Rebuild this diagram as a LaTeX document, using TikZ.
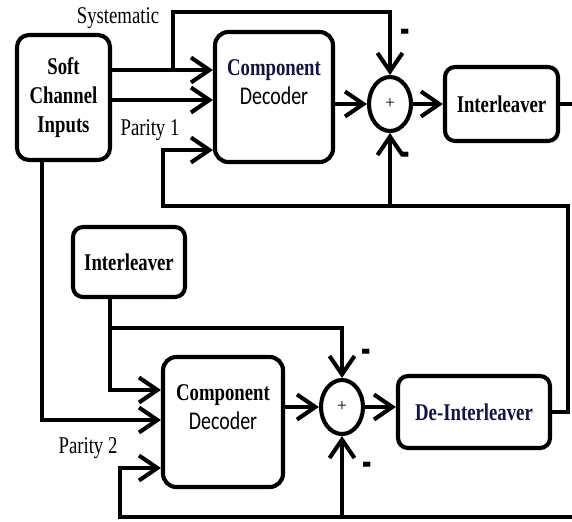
\documentclass[tikz,border=0pt]{standalone}
\usepackage{fontspec}
\setmainfont{Liberation Serif}
\newfontfamily\decfont{Carlito}
\usetikzlibrary{arrows.meta,shapes.geometric}
\def\px{0.03cm}
\def\tallt#1{\scalebox{1}[1.28]{#1}}
\definecolor{navy}{rgb}{0.08,0.08,0.25}
\tikzset{
  blk/.style={draw, line width=3.5pt, rounded corners=4mm, align=center, inner sep=0pt,
    font=\bfseries\fontsize{16}{25}\selectfont},
  sumnode/.style={draw, ellipse, line width=3.5pt, minimum width=42*\px, minimum height=54*\px,
    inner sep=0pt, font=\fontsize{15}{15}\selectfont},
  wire/.style={line width=3.5pt},
  arr/.style={wire, -{Straight Barb[length=5.5mm,width=7.5mm]}},
  lbl/.style={font=\fontsize{16}{18}\selectfont},
  minus/.style={font=\bfseries\fontsize{20}{20}\selectfont, inner sep=1pt}
}
\begin{document}
\begin{tikzpicture}[x=\px, y=-\px]
			%%%%% START %%%%%
			\useasboundingbox (0,0) rectangle (572,521);
			
			\node[blk, rounded corners=3.6mm, minimum width=93*\px, minimum height=125*\px] (soft) at (63.5,97.5) {\tallt{Soft}\\\tallt{Channel}\\\tallt{Inputs}};
			\node[blk, minimum width=118*\px, minimum height=130*\px] (dec1) at (274,97) {\tallt{\textcolor{navy}{Component}}\\\tallt{\decfont\mdseries\fontsize{17}{25}\selectfont Decoder}\\\mbox{}};
			\node[sumnode] (sum1) at (390,104) {+};
			\node[blk, rounded corners=3mm, minimum width=113*\px, minimum height=74*\px] (intl1) at (501.5,104) {\tallt{Interleaver}};
			
			\node[blk, rounded corners=3mm, minimum width=112*\px, minimum height=70*\px] (intl2) at (129,262) {\tallt{Interleaver}};
			\node[blk, minimum width=120*\px, minimum height=130*\px] (dec2) at (223,422) {\tallt{Component}\\\tallt{\decfont\mdseries\fontsize{17}{25}\selectfont Decoder}\\\mbox{}};
			\node[sumnode] (sum2) at (342,407) {+};
			\node[blk, rounded corners=3mm, text=navy, minimum width=152*\px, minimum height=72*\px] (deint) at (474,412) {\tallt{De-Interleaver}};
			
			\coordinate (sysin) at (173,70);
			\coordinate (sysup) at (173,12);
			\coordinate (chin) at (110,100);
			\coordinate (fb1) at (163,150);
			\coordinate (fb1low) at (163,206);
			\coordinate (rgt) at (568,206);
			\coordinate (edge1) at (572,104);
			\coordinate (softdn) at (42,420);
			\coordinate (intdn) at (110,390);
			\coordinate (intbr) at (110,328);
			\coordinate (par2) at (120,468);
			\coordinate (par2low) at (120,517);
			\coordinate (edge2) at (572,517);
			
			% upper decoder
			\draw[arr] (soft.east |- sysin) -- (dec1.west |- sysin);
			\draw[arr] (sysin) -- (sysup) -| (sum1.north);
			\draw[arr] (soft.east |- chin) -- (dec1.west |- chin);
			\draw[arr] (dec1.east |- sum1) -- (sum1.west);
			\draw[arr] (sum1.east) -- (intl1.west);
			\draw[wire] (intl1.east) -- (edge1);
			\draw[arr] (deint.east) -| (rgt) -- (fb1low) -- (fb1) -- (dec1.west |- fb1);
			\draw[arr] (sum1 |- rgt) -- (sum1.south);
			
			% lower decoder
			\draw[arr] (softdn |- soft.south) -- (softdn) -- (dec2.west |- softdn);
			\draw[arr] (intdn |- intl2.south) -- (intdn) -- (dec2.west |- intdn);
			\draw[arr] (intbr) -| (sum2.north);
			\draw[arr] (edge2) -- (par2low) -- (par2) -- (dec2.west |- par2);
			\draw[arr] (sum2 |- edge2) -- (sum2.south);
			\draw[arr] (dec2.east |- sum2) -- (sum2.west);
			\draw[arr] (sum2.east) -- (deint.west |- sum2);
			
			\node[lbl] (systxt) at (118,18) {\tallt{Systematic}};
			\node[lbl] (p1txt) at (150,130) {\tallt{Parity 1}};
			\node[lbl] (p2txt) at (88,448) {\tallt{Parity 2}};
			\node[minus] (m1) at (405,37) {\scalebox{1.2}[2.5]{-}};
			\node[minus] (m2) at (405,160) {\scalebox{1.2}[2.5]{-}};
			\node[minus] (m3) at (366,357) {\scalebox{1.2}[2.5]{-}};
			\node[minus] (m4) at (367,470) {\scalebox{1.2}[2.5]{-}};
			
			%%%%% END %%%%%
\end{tikzpicture}
\end{document}
